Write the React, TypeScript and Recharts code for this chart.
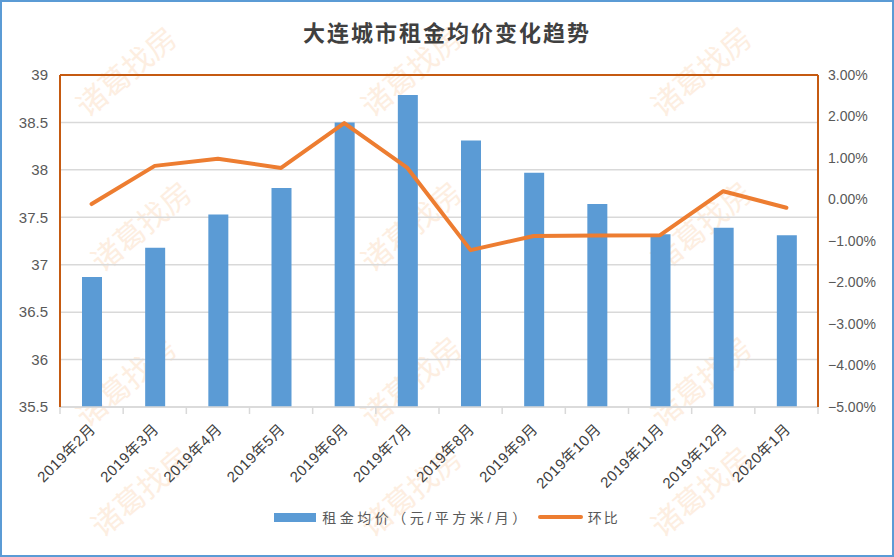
import React from 'react';
import {
  ComposedChart, Bar, Line, XAxis, YAxis, CartesianGrid, Legend, ReferenceLine
} from 'recharts';

const months = [
  '2019年2月', '2019年3月', '2019年4月', '2019年5月', '2019年6月', '2019年7月',
  '2019年8月', '2019年9月', '2019年10月', '2019年11月', '2019年12月', '2020年1月'
];
// 租金均价（元/平方米/月）
const avgRent = [36.87, 37.18, 37.53, 37.81, 38.50, 38.79, 38.31, 37.97, 37.64, 37.32, 37.39, 37.31];
// 环比 (%)
const momChange = [-0.11, 0.81, 0.98, 0.76, 1.84, 0.76, -1.22, -0.88, -0.87, -0.86, 0.20, -0.20];

const leftTicks = [35.5, 36, 36.5, 37, 37.5, 38, 38.5, 39];
const rightTicks = [-5, -4, -3, -2, -1, 0, 1, 2, 3];

const W = 894;
const H = 557;
const LEFT_W = 60;
const RIGHT_W = 76;
const BAND = (W - LEFT_W - RIGHT_W) / months.length;

const BLUE = '#5B9BD5';
const ORANGE = '#ED7D31';
const DARK_ORANGE = '#C55A11';
const GRID = '#D9D9D9';
const FONT = '"Liberation Sans", "Noto Sans CJK SC", sans-serif';

const chartData = months.map((m, i) => ({ month: m, rent: avgRent[i], mom: momChange[i] }));

const fmtPct = (v: number) => (v < 0 ? '−' : '') + Math.abs(v).toFixed(2) + '%';

function MonthTick(props: any) {
  const { x, y, payload, index } = props;
  const last = index === months.length - 1;
  const tx = x + 5;
  const ty = y + 23;
  return (
    <g>
      <line x1={x - BAND / 2} x2={x - BAND / 2} y1={y} y2={y + 7} stroke={GRID} strokeWidth={1.5} />
      {last && <line x1={x + BAND / 2} x2={x + BAND / 2} y1={y} y2={y + 7} stroke={GRID} strokeWidth={1.5} />}
      <text
        x={tx}
        y={ty}
        textAnchor="end"
        transform={`rotate(-45 ${tx} ${ty})`}
        fill="#404040"
        fontSize={15}
        letterSpacing={0.5}
        fontFamily={FONT}
      >
        {payload.value}
      </text>
    </g>
  );
}

function LegendContent() {
  return (
    <div style={{ display: 'flex', justifyContent: 'center', alignItems: 'center', fontFamily: FONT, fontSize: 14, color: '#595959', height: 40 }}>
      <span style={{ display: 'inline-block', width: 42, height: 9, background: BLUE, marginRight: 6 }} />
      <span style={{ marginRight: 8, letterSpacing: 3.5 }}>租金均价（元/平方米/月）</span>
      <span style={{ display: 'inline-block', width: 45, height: 4, borderRadius: 2, background: ORANGE, marginRight: 5 }} />
      <span style={{ letterSpacing: 2 }}>环比</span>
    </div>
  );
}

const watermarkPos = [
  [125, 70], [410, 70], [700, 70],
  [140, 225], [410, 225], [700, 225],
  [125, 380], [410, 380], [700, 380],
  [140, 490], [410, 490], [700, 490],
];

export default function App() {
  return (
    <div style={{ position: 'fixed', left: 0, top: 0, width: W, height: H, background: '#fff', overflow: 'hidden' }}>
      {watermarkPos.map(([cx, cy], i) => (
        <div
          key={i}
          style={{
            position: 'absolute', left: cx - 65, top: cy - 20, width: 130, textAlign: 'center',
            fontFamily: '"Noto Sans CJK SC", sans-serif', fontSize: 30, lineHeight: '40px', color: '#FDEEE1',
            transform: 'rotate(-40deg)', whiteSpace: 'nowrap',
          }}
        >
          诸葛找房
        </div>
      ))}
      <div style={{
        position: 'absolute', left: 0, top: 16, width: W, textAlign: 'center',
        fontFamily: '"Noto Sans CJK SC", sans-serif', fontSize: 22, fontWeight: 700,
        color: '#404040', letterSpacing: 2, lineHeight: '30px',
      }}>
        大连城市租金均价变化趋势
      </div>
      <div style={{ position: 'absolute', left: 0, top: 0 }}>
        <ComposedChart width={W} height={H} data={chartData} margin={{ top: 75, right: 0, bottom: 20, left: 0 }}>
          <CartesianGrid yAxisId="left" vertical={false} stroke={GRID} strokeWidth={1.5} />
          <XAxis
            dataKey="month"
            height={90}
            interval={0}
            axisLine={{ stroke: GRID, strokeWidth: 1.5 }}
            tickLine={false}
            tickSize={0}
            tickMargin={0}
            tick={<MonthTick />}
          />
          <YAxis
            yAxisId="left"
            width={LEFT_W}
            domain={[35.5, 39]}
            ticks={leftTicks}
            allowDataOverflow
            axisLine={{ stroke: DARK_ORANGE, strokeWidth: 2 }}
            tickLine={false}
            tickSize={0}
            tickMargin={12}
            tick={{ fill: '#595959', fontSize: 15, fontFamily: FONT }}
          />
          <YAxis
            yAxisId="right"
            orientation="right"
            width={RIGHT_W}
            domain={[-5, 3]}
            ticks={rightTicks}
            allowDataOverflow
            axisLine={{ stroke: DARK_ORANGE, strokeWidth: 2 }}
            tickLine={false}
            tickSize={0}
            tickMargin={10}
            tickFormatter={fmtPct}
            tick={{ fill: '#595959', fontSize: 14, fontFamily: FONT, textAnchor: 'start' }}
          />
          <ReferenceLine yAxisId="left" y={39} stroke={DARK_ORANGE} strokeWidth={2} />
          <Bar yAxisId="left" dataKey="rent" name="租金均价（元/平方米/月）" fill={BLUE} barSize={20} isAnimationActive={false} />
          <Line
            yAxisId="right"
            type="linear"
            dataKey="mom"
            name="环比"
            stroke={ORANGE}
            strokeWidth={4}
            strokeLinecap="round"
            strokeLinejoin="round"
            dot={false}
            activeDot={false}
            isAnimationActive={false}
          />
          <Legend verticalAlign="bottom" height={40} content={<LegendContent />} />
        </ComposedChart>
      </div>
      <div style={{ position: 'absolute', left: 0, top: 0, width: W, height: H, boxSizing: 'border-box', border: `2px solid ${BLUE}`, pointerEvents: 'none' }} />
    </div>
  );
}
